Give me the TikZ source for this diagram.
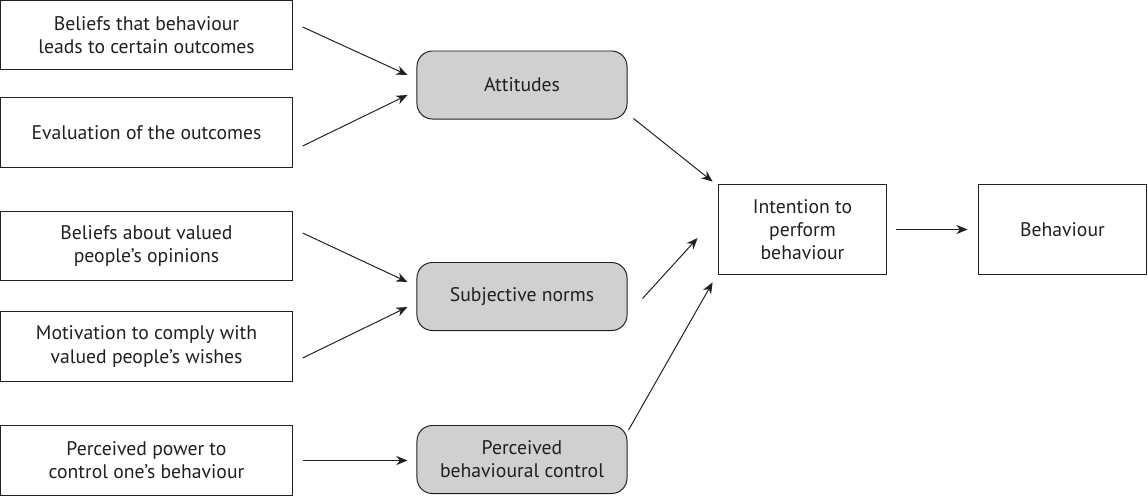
\documentclass[tikz,border=0pt]{standalone}
\usepackage{fontspec}
\setmainfont{PT Sans}
\usetikzlibrary{positioning, arrows.meta, calc}
\definecolor{tpbgray}{HTML}{D0D0D0}
\definecolor{tpbink}{HTML}{231F20}

\begin{document}
\begin{tikzpicture}[x=0.025cm, y=-0.025cm,
          txt/.style={text=tpbink, font=\fontsize{14}{16.5}\selectfont, align=center, inner sep=0pt},
          src/.style={txt, draw=tpbink, line width=0.7pt, minimum width=7.28cm, minimum height=1.73cm},
          fac/.style={txt, draw=tpbink, fill=tpbgray, line width=0.7pt, rounded corners=11pt, minimum width=5.25cm, minimum height=1.7cm},
          res/.style={txt, draw=tpbink, line width=0.7pt, minimum width=4.22cm, minimum height=2.27cm},
          arr/.style={-{Stealth[length=8pt,width=6.5pt]}, line width=0.7pt, tpbink}]
        \useasboundingbox (0,0) rectangle (1148,495);
        % belief boxes on the left
        \node[src] (b1) at (146.5,35) {Beliefs that behaviour\\leads to certain outcomes};
        \node[src] (b2) at (146.5,132.5) {Evaluation of the outcomes};
        \node[src] (b3) at (146.5,246) {Beliefs about valued\\people’s opinions};
        \node[src] (b4) at (146.5,346.5) {Motivation to comply with\\valued people’s wishes};
        \node[src] (b5) at (146.5,460.5) {Perceived power to\\control one’s behaviour};
        % grey factors
        \node[fac] (att) at (522,85) {Attitudes};
        \node[fac] (sn) at (522,296.5) {Subjective norms};
        \node[fac] (pbc) at (522,459.5) {Perceived\\behavioural control};
        % intention and behaviour
        \node[res] (int) at (802.5,229.5) {Intention to\\perform\\behaviour};
        \node[res] (beh) at (1062.5,229.5) {Behaviour};
        \draw[arr] ($(b1.east)+(10,-8)$) -- ($(att.west)+(-9,-10)$);
        \draw[arr] ($(b2.east)+(10,13.5)$) -- ($(att.west)+(-9,10)$);
        \draw[arr] ($(b3.east)+(10,-13)$) -- ($(sn.west)+(-9,-14.5)$);
        \draw[arr] ($(b4.east)+(10,11.5)$) -- ($(sn.west)+(-9,10.5)$);
        \draw[arr] ($(b5.east)+(10,0)$) -- ($(pbc.west)+(-9,1)$);
        \draw[arr] ($(att.south east)+(6,-1)$) -- ($(int.north west)+(-5,-2)$);
        \draw[arr] ($(sn.east)+(15,2)$) -- ($(int.west)+(-20,8.5)$);
        \draw[arr] ($(pbc.north east)+(1,5)$) -- ($(int.south west)+(-5,7)$);
        \draw[arr] ($(int.east)+(9,0)$) -- ($(beh.west)+(-10,0)$);
      \end{tikzpicture}
\end{document}
